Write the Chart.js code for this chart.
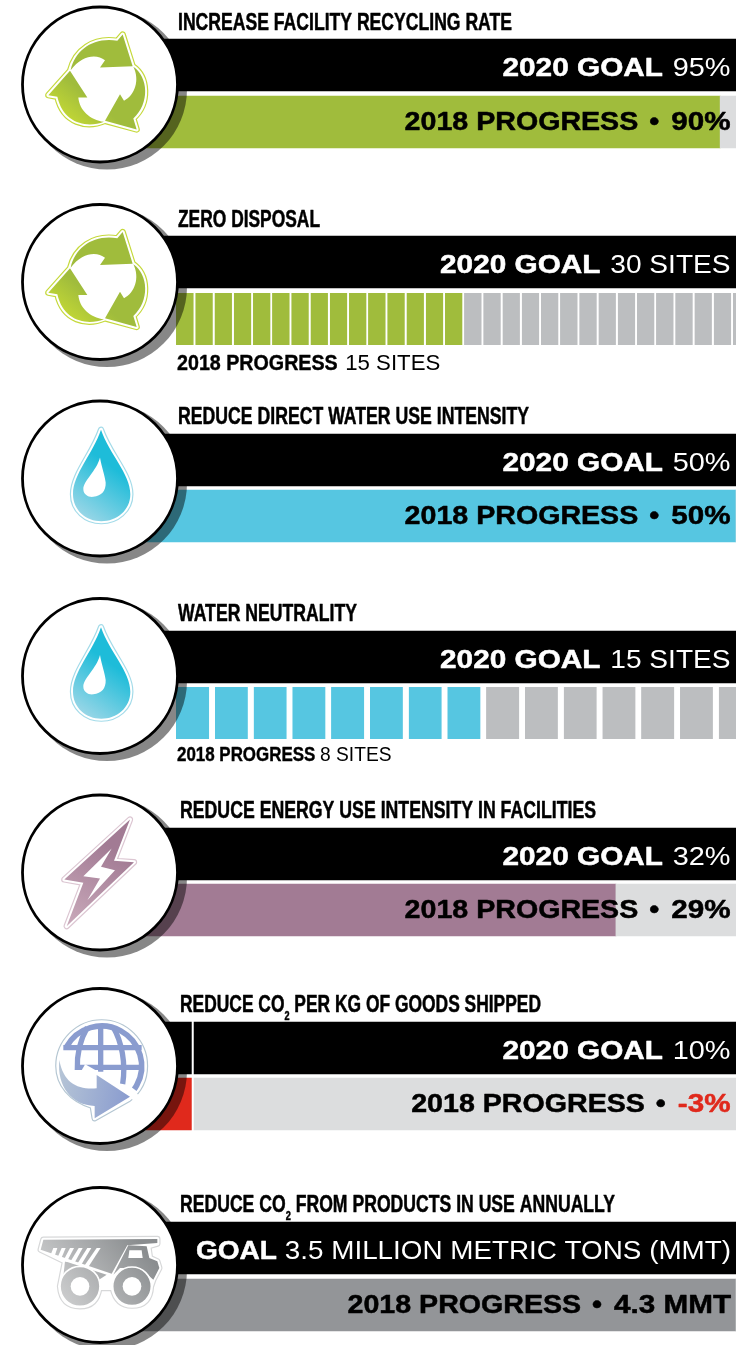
<!DOCTYPE html>
<html>
<head>
<meta charset="utf-8">
<script src="https://cdn.jsdelivr.net/npm/chart.js@4/dist/chart.umd.min.js"></script>
<style>
    html, body { margin: 0; padding: 0; background: #fff; width: 736px; height: 1345px; overflow: hidden; }
    #lienzo { position: relative; width: 736px; height: 1345px; overflow: hidden; }
    canvas { position: absolute; left: 0; display: block; }
</style>
</head>
<body>
<div id="lienzo"></div>
<script>
// Datos
const titulos = [
    ['INCREASE FACILITY RECYCLING RATE'],
    ['ZERO DISPOSAL'],
    ['REDUCE DIRECT WATER USE INTENSITY'],
    ['WATER NEUTRALITY'],
    ['REDUCE ENERGY USE INTENSITY IN FACILITIES'],
    ['REDUCE CO', '2', ' PER KG OF GOODS SHIPPED'],
    ['REDUCE CO', '2', ' FROM PRODUCTS IN USE ANNUALLY']
];
const metaEtiquetas = ['2020 GOAL', '2020 GOAL', '2020 GOAL', '2020 GOAL', '2020 GOAL', '2020 GOAL', 'GOAL'];
const metaTextos = ['95%', '30 SITES', '50%', '15 SITES', '32%', '10%', '3.5 MILLION METRIC TONS (MMT)'];
const progresoTextos = ['90%', '15 SITES', '50%', '8 SITES', '29%', '-3%', '4.3 MMT'];
const metaValores = [95, 30, 50, 15, 32, 10, 3.5];
const progresoValores = [90, 15, 50, 8, 29, -3, 4.3];
const tipos = ['barra', 'sitios', 'barra', 'sitios', 'barra', 'barra', 'barra'];
const iconos = ['reciclar', 'reciclar', 'gota', 'gota', 'rayo', 'globo', 'camion'];

// Escalas de cada fila (el area del grafico empieza en el centro del circulo)
const ejeMin = [0, -3.96, 0, -1.96, 0, -5.94, 0];
const ejeMax = [92.3, 29.17, 50, 14.45, 35.75, 34.8, 4.3];

// Maquetacion
const filaTop = [39, 236, 434, 631, 828, 1022, 1222];
const filaGap = [5, 5, 4, 4, 4, 4, 5];
const circuloY = [84.5, 282, 478.5, 676, 872.5, 1066, 1265];
const tituloY = [30, 227, 424, 621, 818, 1012, 1212];
const tituloX = [178, 178, 178, 178, 180, 180, 180];
const tituloAncho = [334, 142, 351, 179, 416, 361, 435];
const colores = ['#a0bc3c', '#a0bc3c', '#56c6e1', '#56c6e1', '#a27b94', '#e0291c', '#939598'];
const colorPista = ['#dcddde', '#bcbec0', '#dcddde', '#bcbec0', '#dcddde', '#dcddde', '#dcddde'];
const huecoSitio = [0, 2, 0, 6, 0, 0, 0];
const sxMetaEtiqueta = [1.145, 1.145, 1.145, 1.145, 1.145, 1.145, 1.08];
const sxMetaTexto = [1.11, 1.08, 1.11, 1.08, 1.11, 1.11, 1.07];

const ALTO_BANDA = 52;
const MARGEN_SUP = 40;
const ALTO_CANVAS = 176;
const CIRCULO_X = 100;

const GRUESA = 'bold 26px "Liberation Sans"';
const NORMAL = '26px "Liberation Sans"';

// Iconos en coordenadas de los recortes (x3), centro del circulo en cy
const GOTA = 'M303,112 C278,185 219,245 219,305 C219,353 258,386 304,386 C350,386 391,353 391,305 C391,245 328,185 303,112 Z';
const RAYO = 'M390,88 L342,212 L402,216 L200,408 L250,278 L193,268 Z';
const rutasIconos = {
    reciclar: {
        cy: 253,
        borde: '#c5d93a',
        silueta: 'M368,103 L398,198 C445,230 450,310 400,355 L410,388 L315,362 C260,385 190,370 172,290 L145,285 L210,212 C225,150 280,110 352,122 Z',
        rellenos: [
            'M212,210 C225,150 280,110 352,122 L368,103 L398,198 L300,202 L315,180 C290,160 245,165 212,210 Z',
            'M210,212 L262,292 L235,292 C238,330 270,360 312,365 C260,385 190,370 172,290 L145,285 Z',
            'M315,362 L360,282 L372,302 C405,285 420,240 400,200 C445,230 450,310 400,355 L410,388 Z'
        ],
        huecos: [],
        grad: [200, 360, 262, 285, '#c3d835', '#a0bc3c']
    },
    gota: {
        cy: 258,
        borde: '#a3dbe9',
        silueta: GOTA,
        rellenos: [GOTA],
        huecos: ['M300,195 C290,235 250,265 250,290 C250,305 265,315 280,313 C305,310 318,295 317,270 C315,250 305,225 300,195 Z'],
        grad: [235, 385, 345, 230, '#a6d9e8', '#1ebcd9']
    },
    rayo: {
        cy: 247,
        borde: '#dcc6d2',
        silueta: RAYO,
        rellenos: [RAYO],
        huecos: ['M335,175 L250,258 L300,265 L262,330 L345,240 L303,230 Z'],
        grad: [200, 400, 330, 170, '#c9a9ba', '#a27b94']
    },
    globo: {
        cy: 258,
        borde: '#b4c6d2',
        silueta: 'M305,127 C235,127 175,185 175,258 C175,312 212,358 278,378 L284,415 L385,358 C415,335 435,300 435,258 C435,185 375,127 305,127 Z'
    },
    camion: {
        cy: 256,
        borde: '#d7d8d9',
        silueta: 'M130,180 L472,178 L472,192 L445,200 L450,235 L472,245 L478,265 L460,300 L453,320 Q450,378 396,378 Q350,378 338,325 L298,325 Q290,380 240,380 Q185,380 180,320 L195,245 L122,210 Z',
        rellenos: [
            'M130,180 L472,178 L472,190 L382,197 L335,282 L122,210 Z',
            'M385,197 L440,200 L448,235 L472,245 L478,265 L460,300 L420,265 L360,265 L340,285 Z',
            'M195,245 L320,285 L290,305 L190,290 Z'
        ],
        huecos: [
            'M388,212 L425,212 L428,235 L385,235 Z',
            'M160,205 L172,205 L163,232 L152,225 Z',
            'M185,205 L197,205 L182,240 L172,235 Z',
            'M210,205 L222,205 L200,247 L190,243 Z',
            'M236,205 L248,205 L222,252 L210,248 Z',
            'M262,205 L274,205 L242,258 L230,255 Z',
            'M290,205 L302,205 L265,262 L252,260 Z'
        ],
        ruedas: [[240, 320, 60, 28], [396, 320, 58, 28]],
        grad: [190, 360, 420, 190, '#cbcccd', '#8a8d8f']
    }
};

function dibujarGlobo(ctx) {
    ctx.save();
    ctx.strokeStyle = '#8a9ccf';
    ctx.lineWidth = 17;
    ctx.beginPath();
    ctx.arc(305, 258, 120, 3.64, 0.62);
    ctx.stroke();
    ctx.lineWidth = 16;
    ctx.beginPath();
    ctx.moveTo(190, 203); ctx.lineTo(425, 203);
    ctx.moveTo(232, 262); ctx.lineTo(430, 262);
    ctx.moveTo(302, 135); ctx.lineTo(302, 275);
    ctx.moveTo(262, 142); ctx.bezierCurveTo(240, 180, 230, 225, 232, 270);
    ctx.moveTo(340, 142); ctx.bezierCurveTo(365, 185, 378, 250, 368, 312);
    ctx.stroke();
    // Banda blanca y flecha
    ctx.strokeStyle = '#fff';
    ctx.lineWidth = 22;
    ctx.beginPath();
    ctx.moveTo(250, 262); ctx.lineTo(430, 365);
    ctx.stroke();
    const grad = ctx.createLinearGradient(170, 300, 390, 340);
    grad.addColorStop(0, '#b6c5d6');
    grad.addColorStop(1, '#8a9ccf');
    ctx.fillStyle = grad;
    ctx.fill(new Path2D('M178,240 C190,310 235,330 290,325 L290,285 L390,350 L284,415 L284,378 C215,375 170,320 178,240 Z'));
    ctx.restore();
}

function dibujarIcono(ctx, nombre, cx, cy) {
    const ic = rutasIconos[nombre];
    ctx.save();
    ctx.translate(cx, cy);
    ctx.scale(1 / 3, 1 / 3);
    ctx.translate(-300, -ic.cy);
    ctx.lineJoin = 'round';
    const silueta = new Path2D(ic.silueta);
    ctx.strokeStyle = ic.borde;
    ctx.lineWidth = 19;
    ctx.stroke(silueta);
    ctx.strokeStyle = '#fff';
    ctx.lineWidth = 12;
    ctx.stroke(silueta);
    ctx.fillStyle = '#fff';
    ctx.fill(silueta);
    if (nombre === 'globo') {
        dibujarGlobo(ctx);
    } else {
        const g = ic.grad;
        const grad = ctx.createLinearGradient(g[0], g[1], g[2], g[3]);
        grad.addColorStop(0, g[4]);
        grad.addColorStop(1, g[5]);
        ctx.fillStyle = grad;
        ic.rellenos.forEach(r => ctx.fill(new Path2D(r)));
        (ic.ruedas || []).forEach(r => {
            ctx.fillStyle = grad;
            ctx.beginPath();
            ctx.arc(r[0], r[1], r[2], 0, Math.PI * 2);
            ctx.fill();
            ctx.strokeStyle = '#fff';
            ctx.lineWidth = 5;
            ctx.stroke();
        });
        ctx.fillStyle = '#fff';
        ic.huecos.forEach(r => ctx.fill(new Path2D(r)));
        (ic.ruedas || []).forEach(r => {
            ctx.beginPath();
            ctx.arc(r[0], r[1], r[3], 0, Math.PI * 2);
            ctx.fill();
        });
    }
    ctx.restore();
}

// Escribe varios tramos seguidos. ancla: 'left' o 'right'
function escribir(ctx, tramos, x, y, ancla) {
    let total = 0;
    tramos.forEach(t => {
        ctx.font = t.font;
        t.w = ctx.measureText(t.text).width * t.sx + (t.extra || 0);
        total += t.w;
    });
    let px = ancla === 'right' ? x - total : x;
    tramos.forEach(t => {
        ctx.save();
        ctx.font = t.font;
        ctx.fillStyle = t.color;
        ctx.translate(px, y + (t.dy || 0));
        ctx.scale(t.sx, 1);
        ctx.textAlign = 'left';
        ctx.textBaseline = 'alphabetic';
        ctx.fillText(t.text, 0, 0);
        if (t.trazo) {
            // Helvetica del original es mas negra que la fuente disponible
            ctx.strokeStyle = t.color;
            ctx.lineWidth = t.trazo;
            ctx.lineJoin = 'round';
            ctx.strokeText(t.text, 0, 0);
        }
        ctx.restore();
        px += t.w;
    });
}

function escribirTitulo(ctx, i, yLocal) {
    const partes = titulos[i];
    const fuente = 'bold 23px "Liberation Sans Narrow", "Liberation Sans"';
    const chica = 'bold 12px "Liberation Sans Narrow", "Liberation Sans"';
    let natural = 0;
    partes.forEach((p, k) => {
        ctx.font = k === 1 ? chica : fuente;
        natural += ctx.measureText(p).width;
    });
    const sx = tituloAncho[i] / natural;
    const tramos = partes.map((p, k) => ({
        text: p, font: k === 1 ? chica : fuente, sx: sx, color: '#000', dy: k === 1 ? 8 : 0, trazo: 0.5
    }));
    escribir(ctx, tramos, tituloX[i], yLocal, 'left');
}

function crearFila(i) {
    const canvas = document.createElement('canvas');
    canvas.width = 736;
    canvas.height = ALTO_CANVAS;
    const origen = filaTop[i] - MARGEN_SUP;
    canvas.style.top = origen + 'px';
    document.getElementById('lienzo').appendChild(canvas);

    const gap = filaGap[i];
    const comun = { barThickness: ALTO_BANDA, grouped: false, borderWidth: 0 };
    const datasets = [{
        ...comun,
        label: 'Goal band',
        data: [[ejeMin[i], ejeMax[i]], null],
        backgroundColor: '#000'
    }];

    if (tipos[i] === 'sitios') {
        // Un rectangulo por sitio de la meta
        for (let s = 0; s < metaValores[i]; s++) {
            datasets.push({
                ...comun,
                label: 'Site ' + (s + 1),
                data: [null, [s, s + 1]],
                backgroundColor: s < progresoValores[i] ? colores[i] : colorPista[i],
                borderColor: '#fff',
                borderSkipped: false,
                borderWidth: { top: 0, bottom: 0, left: 0, right: huecoSitio[i] }
            });
        }
    } else {
        const valor = progresoValores[i];
        datasets.push({
            ...comun,
            label: 'Track',
            data: [null, [Math.max(valor, 0), ejeMax[i]]],
            backgroundColor: colorPista[i]
        });
        datasets.push({
            ...comun,
            label: '2018 progress',
            data: [null, [Math.min(valor, 0), Math.max(valor, 0)]],
            backgroundColor: colores[i]
        });
    }

    const pluginFila = {
        id: 'fila',
        afterDatasetsDraw: (chart) => {
            const { ctx, chartArea: { top, bottom }, scales: { x } } = chart;
            const cy = circuloY[i] - origen;
            const cx = CIRCULO_X;

            // Linea de cero cuando el progreso es negativo
            if (progresoValores[i] < 0) {
                ctx.save();
                ctx.fillStyle = '#fff';
                ctx.fillRect(x.getPixelForValue(0) - 1, top, 2, bottom - top);
                ctx.restore();
            }

            // Sombra, circulo e icono
            ctx.save();
            ctx.fillStyle = 'rgba(0, 0, 0, 0.47)';
            ctx.beginPath();
            ctx.arc(cx + 7, cy + 5, 80, 0, Math.PI * 2);
            ctx.fill();
            ctx.fillStyle = '#fff';
            ctx.strokeStyle = '#000';
            ctx.lineWidth = 2.8;
            ctx.beginPath();
            ctx.arc(cx, cy, 77.5, 0, Math.PI * 2);
            ctx.fill();
            ctx.stroke();
            ctx.restore();
            dibujarIcono(ctx, iconos[i], cx, cy);

            // Textos
            const bandaY = MARGEN_SUP;
            const segundaY = bandaY + ALTO_BANDA + gap;
            escribirTitulo(ctx, i, tituloY[i] - origen);
            escribir(ctx, [
                { font: GRUESA, sx: sxMetaEtiqueta[i], trazo: 0.5, text: metaEtiquetas[i] + ' ', color: '#fff', extra: i === 6 ? 0 : 1.5 },
                { font: NORMAL, sx: sxMetaTexto[i], text: metaTextos[i], color: '#fff' }
            ], i === 6 ? 731 : 730.5, bandaY + 37, 'right');

            if (tipos[i] === 'sitios') {
                const chico = i === 1;
                escribir(ctx, [
                    { font: 'bold ' + (chico ? 21.5 : 19.5) + 'px "Liberation Sans"', sx: chico ? 0.915 : 0.868, trazo: 0.4, text: '2018 PROGRESS ', color: '#000', extra: chico ? 2 : 0 },
                    { font: (chico ? 22 : 20) + 'px "Liberation Sans"', sx: chico ? 1.01 : 0.96, text: progresoTextos[i], color: '#000' }
                ], 177, segundaY + ALTO_BANDA + (chico ? 25 : 22), 'left');
            } else {
                const negativo = progresoValores[i] < 0;
                escribir(ctx, [
                    { font: GRUESA, sx: 1.1, trazo: 0.5, text: '2018 PROGRESS ', color: '#000', extra: 3 },
                    { font: GRUESA, sx: 1.1, trazo: 0.5, text: '• ', color: '#000', extra: 4 },
                    { font: GRUESA, sx: 1.14, trazo: 0.5, text: progresoTextos[i], color: negativo ? '#e0291c' : '#000' }
                ], i === 6 ? 731 : 730.5, segundaY + 34, 'right');
            }
        }
    };

    const altoBandas = 2 * (ALTO_BANDA + gap);
    new Chart(canvas.getContext('2d'), {
        type: 'bar',
        data: { labels: ['Goal', '2018 progress'], datasets: datasets },
        plugins: [pluginFila],
        options: {
            indexAxis: 'y',
            responsive: false,
            animation: false,
            devicePixelRatio: 1,
            layout: {
                padding: {
                    top: MARGEN_SUP - gap / 2,
                    bottom: ALTO_CANVAS - (MARGEN_SUP - gap / 2) - altoBandas,
                    left: CIRCULO_X,
                    right: 0
                }
            },
            plugins: { legend: { display: false }, tooltip: { enabled: false } },
            scales: {
                x: { type: 'linear', display: false, min: ejeMin[i], max: ejeMax[i] },
                y: { type: 'category', display: false }
            }
        }
    });
}

titulos.forEach((t, i) => crearFila(i));
</script>
</body>
</html>
